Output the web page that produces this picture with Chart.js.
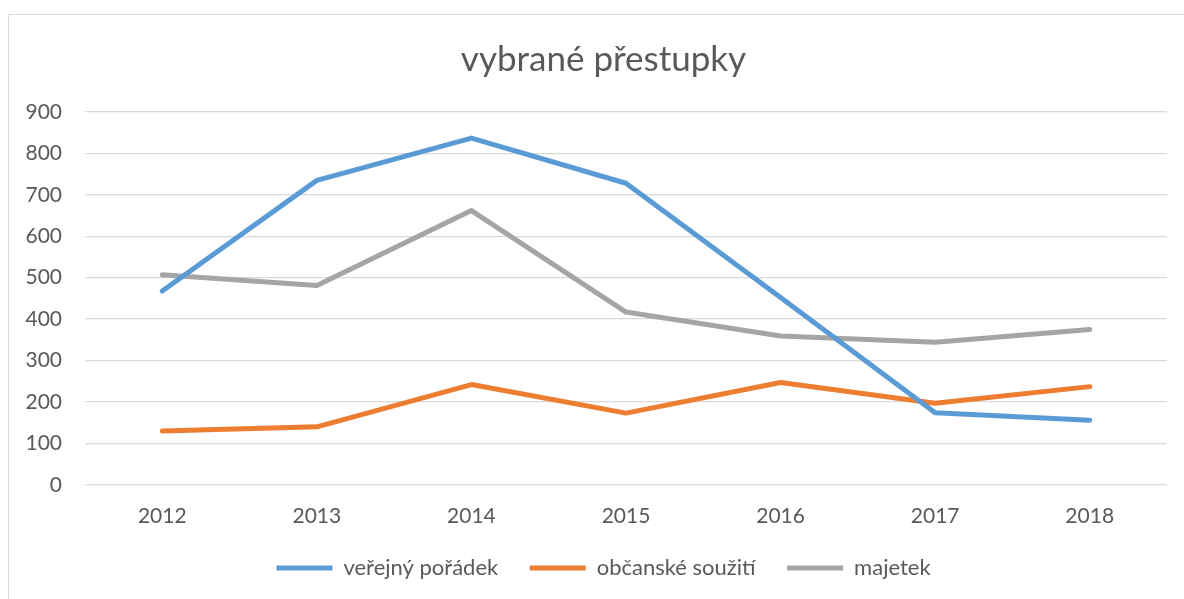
<!DOCTYPE html>
<html>
<head>
<meta charset="utf-8">
<script src="https://cdn.jsdelivr.net/npm/chart.js@4/dist/chart.umd.min.js"></script>
<style>
  html, body { margin: 0; padding: 0; background: #fff; }
  #wrap { position: relative; width: 1184px; height: 599px; overflow: hidden; }
  #frame { position: absolute; left: 8px; top: 14px; width: 1300px; height: 700px; border: 1px solid #d9d9d9; }
  #myChart { position: absolute; left: 0; top: 0; }
</style>
</head>
<body>
<div id="wrap">
  <div id="frame"></div>
  <canvas id="myChart" width="1184" height="599"></canvas>
</div>
<script>
//  data
const years      = ["2012", "2013", "2014", "2015", "2016", "2017", "2018"];
const verejny    = [468, 735, 837, 728, 452, 174, 156];
const obcanske   = [130, 140, 242, 173, 247, 197, 237];
const majetek    = [507, 481, 662, 417, 359, 344, 375];
const yTicks     = [0, 100, 200, 300, 400, 500, 600, 700, 800, 900];

const textColor = '#595959';
const gridColor = '#d9d9d9';
const fontName  = 'Lato, "Open Sans", sans-serif';

function makeLine(label, values, colour){
    return {
        label: label,
        data: values,
        borderColor: colour,
        backgroundColor: colour,
        borderWidth: 5,
        borderCapStyle: 'round',
        borderJoinStyle: 'round',
        pointRadius: 0,
        pointHoverRadius: 0,
        tension: 0,
        fill: false
    };
}

//  legend: default items, with a little trailing room after each text (gap between items)
function legendLabels(chart){
    const items = Chart.defaults.plugins.legend.labels.generateLabels(chart);
    items.forEach((item, i) => {
        if(i < items.length - 1){
            item.text = item.text + '    ';
        }
    });
    return items;
}

//  title and legend are centred a bit to the right of the canvas centre in the original
const shiftBlocks = {
    id: 'shiftBlocks',
    afterLayout(chart){
        [chart.titleBlock, chart.legend].forEach(box => {
            if(box){
                box.left  += 20;
                box.right += 20;
            }
        });
    }
};

//  config
const config = {
    type: 'line',
    data: {
        labels: years,
        datasets: [
            makeLine('veřejný pořádek', verejny, '#5b9bd5'),
            makeLine('občanské soužití', obcanske, '#ed7d31'),
            makeLine('majetek', majetek, '#a5a5a5')
        ]
    },
    options: {
        responsive: false,
        animation: false,
        layout: { padding: { left: 0, right: 17, top: 0, bottom: 10 } },
        plugins: {
            tooltip: { enabled: false },
            title: {
                display: true,
                text: 'vybrané přestupky',
                color: textColor,
                font: { family: fontName, size: 35, weight: 'normal' },
                padding: { top: 39, bottom: 31 }
            },
            legend: {
                position: 'bottom',
                labels: {
                    color: textColor,
                    font: { family: fontName, size: 22 },
                    usePointStyle: true,
                    pointStyle: 'line',
                    pointStyleWidth: 56,
                    padding: 9,
                    generateLabels: legendLabels
                }
            }
        },
        scales: {
            x: {
                offset: true,
                grid: { display: false, drawTicks: false },
                border: { display: false },
                ticks: { color: textColor, font: { family: fontName, size: 21 }, padding: 19 }
            },
            y: {
                min: 0,
                max: 900,
                afterBuildTicks: function(scale){ scale.ticks = yTicks.map(v => ({ value: v })); },
                afterFit: function(scale){ scale.width = 85; },
                grid: { color: gridColor, lineWidth: 1.3, drawTicks: false },
                border: { display: false },
                ticks: { color: textColor, font: { family: fontName, size: 21 }, padding: 23 }
            }
        }
    },
    plugins: [shiftBlocks]
};

let myChart = new Chart(document.getElementById('myChart'), config);
</script>
</body>
</html>
